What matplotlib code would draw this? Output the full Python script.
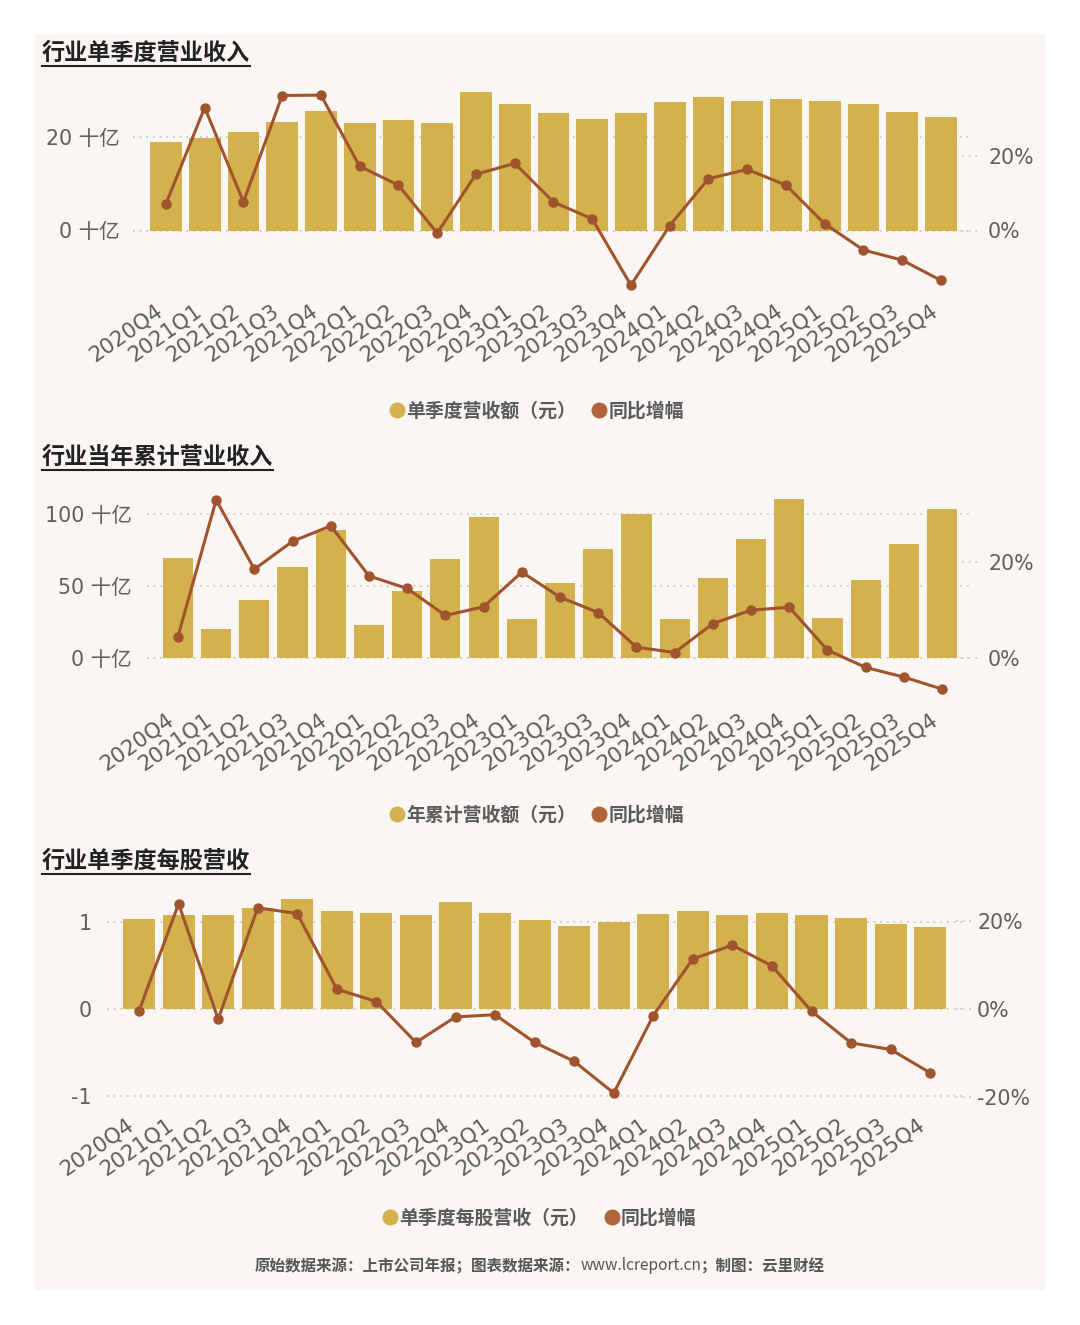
import matplotlib
matplotlib.use('Agg')
import matplotlib.pyplot as plt
import matplotlib.transforms as mtransforms
from matplotlib.lines import Line2D
from matplotlib.patches import Rectangle

plt.rcParams['font.family'] = ['DejaVu Sans', 'Noto Sans CJK SC']

W, H = 1080, 1325

quarters = ['2020Q4', '2021Q1', '2021Q2', '2021Q3', '2021Q4', '2022Q1', '2022Q2',
            '2022Q3', '2022Q4', '2023Q1', '2023Q2', '2023Q3', '2023Q4', '2024Q1',
            '2024Q2', '2024Q3', '2024Q4', '2025Q1', '2025Q2', '2025Q3', '2025Q4']

# 单季度营收 (十亿) and 同比 (%)
rev_q = [19.0, 19.7, 21.1, 23.3, 25.6, 22.9, 23.6, 23.1, 29.6, 27.0, 25.2,
         23.9, 25.2, 27.4, 28.6, 27.6, 28.2, 27.8, 27.1, 25.4, 24.3]
rev_q_yoy = [7.1, 32.8, 7.6, 36.0, 36.1, 17.1, 12.1, -0.7, 15.0, 17.9, 7.6,
             3.1, -14.6, 1.3, 13.8, 16.3, 12.1, 1.8, -5.2, -7.9, -13.3]

# 年累计营收 (十亿) and 同比 (%)
rev_ytd = [69.8, 20.0, 40.6, 63.6, 89.2, 23.0, 46.5, 68.9, 98.2, 27.2, 52.2,
           75.8, 100.0, 27.2, 55.5, 82.7, 110.6, 27.6, 54.6, 79.5, 103.5]
rev_ytd_yoy = [4.5, 32.9, 18.5, 24.3, 27.5, 17.1, 14.5, 8.9, 10.7, 17.9, 12.7,
               9.5, 2.3, 1.2, 7.2, 10.0, 10.6, 1.7, -1.9, -3.9, -6.4]

# 单季度每股营收 (元) and 同比 (%)
rps_q = [1.034, 1.077, 1.084, 1.161, 1.261, 1.123, 1.100, 1.077, 1.234, 1.107, 1.019,
         0.950, 1.004, 1.092, 1.130, 1.084, 1.100, 1.084, 1.046, 0.977, 0.943]
rps_q_yoy = [-0.4, 23.9, -2.3, 23.0, 21.7, 4.5, 1.7, -7.6, -1.8, -1.3, -7.6,
             -11.9, -19.1, -1.5, 11.4, 14.5, 9.8, -0.5, -7.7, -9.2, -14.5]

BAR = '#d3b14c'
LINE = '#a0542e'
LEG_LINE = '#b0643a'
GRID = '#c9c4bf'
TXT = '#5e5e5e'
PANEL = '#f9f6f3'

fig = plt.figure(figsize=(W / 100, H / 100), dpi=100, facecolor='white')
fig.add_artist(Rectangle((35 / W, 1 - 1290 / H), 1010 / W, 1256 / H,
                         transform=fig.transFigure, facecolor=PANEL, edgecolor='none', zorder=-10))


def ylim_from(mapping, top, bottom):
    y0, v0, y1, v1 = mapping
    k = (v1 - v0) / (y0 - y1)
    return v0 - (bottom - y0) * k, v0 + (y0 - top) * k


def draw_panel(box, xlim, lmap, rmap, bars, yoy, lticks, llabels, rticks, rlabels,
               bar_w, lpad, rpad, xpad, xshift):
    left, top, right, bottom = box
    ax = fig.add_axes([left / W, 1 - bottom / H, (right - left) / W, (bottom - top) / H])
    ax.set_facecolor('none')
    ax2 = ax.twinx()
    x = list(range(len(quarters)))
    ax.bar(x, bars, width=bar_w, color=BAR, zorder=2)
    ax.set_axisbelow(True)
    ax.set_xlim(*xlim)
    ax.set_ylim(*ylim_from(lmap, top, bottom))
    ax2.set_ylim(*ylim_from(rmap, top, bottom))
    ax2.plot(x, yoy, color=LINE, lw=2.2, marker='o', ms=6.5, zorder=3)

    ax.set_yticks(lticks)
    ax.set_yticklabels(llabels)
    ax.yaxis.grid(True, color=GRID, linestyle=(0, (1, 3)), linewidth=1.2)
    ax2.set_yticks(rticks)
    ax2.set_yticklabels(rlabels)
    blend = mtransforms.blended_transform_factory(ax2.transAxes, ax2.transData)
    for t in rticks:
        ax2.plot([0.99, 1.012], [t, t], transform=blend, clip_on=False,
                 color=GRID, linestyle=(0, (1, 3)), linewidth=1.2)

    # labels sit a little left of each bar centre
    px_per_unit = (right - left) / (xlim[1] - xlim[0])
    ax.set_xticks([i + xshift / px_per_unit for i in x])
    ax.set_xticklabels(quarters, rotation=35, ha='right', va='top', rotation_mode='anchor')

    ax.tick_params(axis='x', length=0, pad=xpad * 0.72, labelsize=15.3, labelcolor=TXT)
    ax.tick_params(axis='y', length=0, pad=lpad * 0.72, labelsize=14.8, labelcolor=TXT)
    ax2.tick_params(axis='y', length=0, pad=rpad * 0.72, labelsize=14.8, labelcolor=TXT)
    for a in (ax, ax2):
        for s in a.spines.values():
            s.set_visible(False)
    return ax


def add_legend(label, cx, cy):
    handles = [Line2D([], [], ls='', marker='o', ms=10.5, color=BAR),
               Line2D([], [], ls='', marker='o', ms=10.5, color=LEG_LINE)]
    fig.legend(handles, [label, '同比增幅'], loc='center', bbox_to_anchor=(cx / W, 1 - cy / H),
               ncol=2, frameon=False, handlelength=0.7, handletextpad=0.12, columnspacing=0.9,
               prop={'family': ['Noto Sans CJK SC'], 'weight': 'bold', 'size': 13.6},
               labelcolor='#5a5a5a')


titles = []


def add_title(text, y):
    t = fig.text(42 / W, 1 - y / H, text, ha='left', va='center', fontsize=16.7,
                 fontweight='bold', color='#222222', family=['Noto Sans CJK SC'])
    titles.append(t)


# 行业单季度营业收入
add_title('行业单季度营业收入', 53)
draw_panel((133, 85, 970, 297), (-0.85, 20.75), (230.5, 0, 137, 20), (230.5, 0, 155.5, 20),
           rev_q, rev_q_yoy, [0, 20], ['0 十亿', '20 十亿'], [0, 20], ['0%', '20%'],
           0.82, 13, 18, 3, -11)
add_legend('单季度营收额（元）', 537, 411)

# 行业当年累计营业收入
add_title('行业当年累计营业收入', 457)
draw_panel((147, 488, 970, 705), (-0.81, 20.73), (658.3, 0, 514, 100), (658.3, 0, 562, 20),
           rev_ytd, rev_ytd_yoy, [0, 50, 100], ['0 十亿', '50 十亿', '100 十亿'],
           [0, 20], ['0%', '20%'], 0.79, 15, 18, 4, -12)
add_legend('年累计营收额（元）', 537, 815)

# 行业单季度每股营收
add_title('行业单季度每股营收', 861)
draw_panel((107, 890, 965, 1105), (-0.81, 20.88), (1009, 0, 922, 1), (1009, 0, 921, 20),
           rps_q, rps_q_yoy, [-1, 0, 1], ['-1', '0', '1'], [-20, 0, 20],
           ['-20%', '0%', '20%'], 0.81, 15, 12, 9, -13)
add_legend('单季度每股营收（元）', 540, 1218)

# footer
fig.canvas.draw()
r = fig.canvas.get_renderer()
inv = fig.transFigure.inverted()
parts = [('原始数据来源：上市公司年报；图表数据来源：', 'bold'),
         ('www.lcreport.cn', 'normal'),
         ('；制图：云里财经', 'bold')]
texts = []
widths = []
for s, w in parts:
    t = fig.text(0, 1 - 1266 / H, s, ha='left', va='center', fontsize=11.2,
                 fontweight=w, color='#555555', family=['Noto Sans CJK SC'])
    texts.append(t)
    widths.append(t.get_window_extent(r).width)
x0 = (W - sum(widths)) / 2
for t, wd in zip(texts, widths):
    t.set_x(x0 / W)
    x0 += wd

# underline titles
for t in titles:
    bb = t.get_window_extent(r)
    (fx0, fy0), (fx1, _) = inv.transform([(bb.x0, bb.y0), (bb.x1, bb.y0)])
    fig.add_artist(Line2D([fx0, fx1], [fy0 - 1 / H, fy0 - 1 / H], transform=fig.transFigure,
                          color='#222222', lw=1.5))

fig.savefig('out.png', dpi=100, facecolor='white')
